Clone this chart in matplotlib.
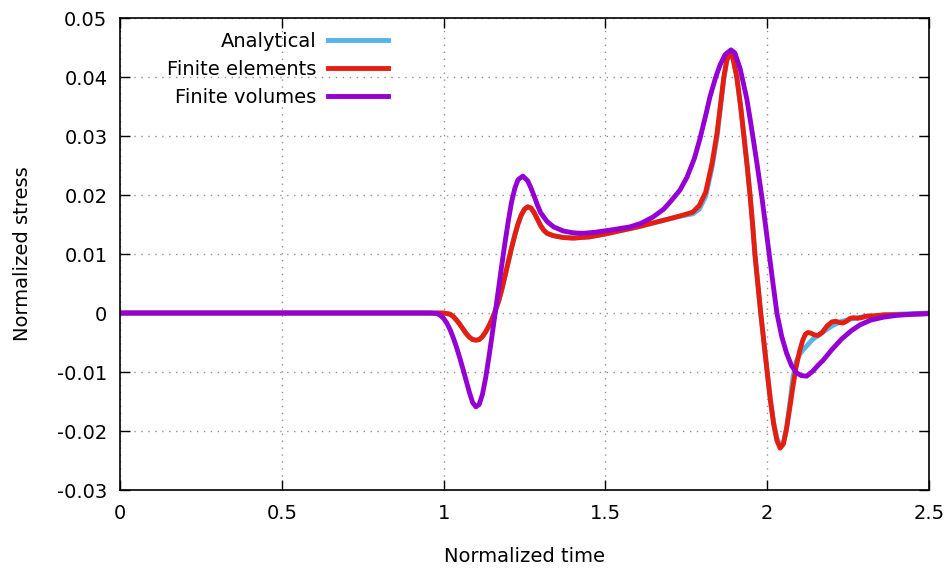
import matplotlib
matplotlib.use("Agg")
import matplotlib.pyplot as plt

# Analytical
t_an = [0, 0.5, 1.00, 1.02, 1.03, 1.04, 1.05, 1.06, 1.07, 1.08, 1.09, 1.10, 1.11,
        1.12, 1.13, 1.14, 1.15, 1.16, 1.17, 1.18, 1.19, 1.20, 1.21, 1.22, 1.23,
        1.24, 1.25, 1.26, 1.27, 1.28, 1.29, 1.30, 1.31, 1.32, 1.34, 1.37, 1.40,
        1.45, 1.50, 1.55, 1.60, 1.65, 1.70, 1.74, 1.77, 1.79, 1.81, 1.83, 1.845,
        1.855, 1.866, 1.875, 1.885, 1.895, 1.906, 1.918, 1.928, 1.938, 1.947,
        1.955, 1.962, 1.971, 1.980, 1.990, 2.000, 2.010, 2.020, 2.030, 2.040,
        2.050, 2.060, 2.070, 2.080, 2.090, 2.100, 2.110, 2.122, 2.140, 2.160,
        2.173, 2.200, 2.225, 2.260, 2.300, 2.350, 2.400, 2.450, 2.5]
s_an = [0, 0, 0, -0.0002, -0.0006, -0.0012, -0.0019, -0.0027, -0.0035, -0.0041,
        -0.0045, -0.0046, -0.0045, -0.0040, -0.0032, -0.0022, -0.0010, 0.0004,
        0.0020, 0.0040, 0.0063, 0.0087, 0.0110, 0.0132, 0.0151, 0.0166, 0.0176,
        0.0180, 0.0178, 0.0170, 0.0159, 0.0148, 0.0140, 0.0135, 0.0131, 0.0128,
        0.0127, 0.0129, 0.0134, 0.0140, 0.0146, 0.0153, 0.0160, 0.0165, 0.0168,
        0.0176, 0.0198, 0.0248, 0.0298, 0.0345, 0.0397, 0.0427, 0.0442, 0.0430,
        0.0400, 0.0350, 0.0300, 0.0250, 0.0200, 0.0150, 0.0100, 0.0050, 0.0000,
        -0.0050, -0.0100, -0.0148, -0.0186, -0.0212, -0.0225, -0.0221, -0.0196,
        -0.0152, -0.0108, -0.0082, -0.0070, -0.0063, -0.0056, -0.0045, -0.0037,
        -0.0032, -0.0022, -0.0015, -0.0010, -0.0006, -0.0004, -0.0002, -0.0001, 0]

# Finite elements
t_fe = [0, 0.5, 1.00, 1.02, 1.03, 1.04, 1.05, 1.06, 1.07, 1.08, 1.09, 1.10, 1.11,
        1.12, 1.13, 1.14, 1.15, 1.16, 1.17, 1.18, 1.19, 1.20, 1.21, 1.22, 1.23,
        1.24, 1.25, 1.26, 1.27, 1.28, 1.29, 1.30, 1.31, 1.32, 1.34, 1.37, 1.40,
        1.45, 1.50, 1.55, 1.60, 1.65, 1.70, 1.74, 1.77, 1.79, 1.81, 1.83, 1.845,
        1.855, 1.866, 1.875, 1.885, 1.895, 1.906, 1.918, 1.928, 1.938, 1.947,
        1.955, 1.962, 1.971, 1.980, 1.990, 2.000, 2.010, 2.020, 2.030, 2.040,
        2.050, 2.060, 2.070, 2.080, 2.090, 2.100, 2.110, 2.118, 2.126, 2.135,
        2.145, 2.157, 2.170, 2.185, 2.200, 2.212, 2.223, 2.234, 2.245, 2.256,
        2.266, 2.280, 2.290, 2.310, 2.330, 2.360, 2.400, 2.450, 2.5]
s_fe = [0, 0, 0, -0.0002, -0.0006, -0.0012, -0.0019, -0.0027, -0.0035, -0.0041,
        -0.0045, -0.0046, -0.0045, -0.0040, -0.0032, -0.0022, -0.0010, 0.0004,
        0.0020, 0.0040, 0.0063, 0.0087, 0.0110, 0.0132, 0.0151, 0.0166, 0.0176,
        0.0180, 0.0178, 0.0170, 0.0159, 0.0148, 0.0140, 0.0135, 0.0131, 0.0128,
        0.0127, 0.0129, 0.0134, 0.0140, 0.0146, 0.0153, 0.0160, 0.0166, 0.0171,
        0.0182, 0.0205, 0.0255, 0.0305, 0.0350, 0.0400, 0.0428, 0.0442, 0.0430,
        0.0400, 0.0350, 0.0300, 0.0250, 0.0200, 0.0150, 0.0100, 0.0050, 0.0000,
        -0.0050, -0.0100, -0.0148, -0.0188, -0.0216, -0.0229, -0.0222, -0.0195,
        -0.0160, -0.0123, -0.0090, -0.0065, -0.0046, -0.0036, -0.0033, -0.0034,
        -0.0037, -0.0038, -0.0033, -0.0022, -0.0015, -0.0014, -0.0016, -0.0017,
        -0.0014, -0.0009, -0.0008, -0.0009, -0.0008, -0.0005, -0.0005, -0.0003,
        -0.0003, -0.0002, -0.0001]

# Finite volumes
t_fv = [0, 0.5, 0.96, 0.98, 0.99, 1.00, 1.01, 1.02, 1.03, 1.04, 1.05, 1.06, 1.07,
        1.08, 1.09, 1.10, 1.11, 1.12, 1.13, 1.14, 1.15, 1.16, 1.17, 1.18, 1.19,
        1.20, 1.21, 1.22, 1.23, 1.245, 1.26, 1.27, 1.28, 1.29, 1.30, 1.32, 1.34,
        1.37, 1.40, 1.43, 1.47, 1.52, 1.576, 1.61, 1.648, 1.68, 1.70, 1.73, 1.752,
        1.775, 1.792, 1.81, 1.823, 1.84, 1.854, 1.87, 1.888, 1.90, 1.916, 1.925,
        1.937, 1.946, 1.956, 1.968, 1.984, 2.005, 2.018, 2.03, 2.045, 2.06, 2.075,
        2.09, 2.105, 2.122, 2.14, 2.16, 2.173, 2.20, 2.23, 2.26, 2.287, 2.32,
        2.36, 2.40, 2.45, 2.5]
s_fv = [0, 0, 0, -0.0001, -0.0004, -0.0009, -0.0017, -0.0028, -0.0042, -0.0058,
        -0.0076, -0.0095, -0.0115, -0.0135, -0.0152, -0.0159, -0.0155, -0.0138,
        -0.0110, -0.0075, -0.0037, 0.0002, 0.0042, 0.0082, 0.0120, 0.0156, 0.0188,
        0.0211, 0.0226, 0.0232, 0.0224, 0.0212, 0.0198, 0.0183, 0.0170, 0.0155,
        0.0146, 0.0139, 0.0136, 0.0135, 0.0137, 0.0141, 0.0146, 0.0152, 0.0163,
        0.0176, 0.0188, 0.0208, 0.0230, 0.0262, 0.0295, 0.0335, 0.0366, 0.0398,
        0.0420, 0.0438, 0.0446, 0.0441, 0.0415, 0.0393, 0.0363, 0.0333, 0.0298,
        0.0255, 0.0195, 0.0105, 0.0050, 0.0000, -0.0040, -0.0068, -0.0089,
        -0.0101, -0.0106, -0.0107, -0.0099, -0.0087, -0.0080, -0.0062, -0.0044,
        -0.0030, -0.0020, -0.0012, -0.0007, -0.0004, -0.0002, -0.0001]

x_ticks = [0, 0.5, 1, 1.5, 2, 2.5]
x_labels = ["0", "0.5", "1", "1.5", "2", "2.5"]
y_ticks = [-0.03, -0.02, -0.01, 0, 0.01, 0.02, 0.03, 0.04, 0.05]
y_labels = ["-0.03", "-0.02", "-0.01", "0", "0.01", "0.02", "0.03", "0.04", "0.05"]

plt.rcParams["font.family"] = "DejaVu Sans"
plt.rcParams["font.size"] = 14

fig = plt.figure(figsize=(9.53, 5.74), dpi=100)
ax = fig.add_axes([0.1259, 0.1463, 0.8489, 0.8223])

ax.plot(t_an, s_an, color="#56b4e9", lw=3.5, label="Analytical")
ax.plot(t_fe, s_fe, color="#e51e10", lw=3.5, label="Finite elements")
ax.plot(t_fv, s_fv, color="#9400d3", lw=3.5, label="Finite volumes")

ax.set_xlim(0, 2.5)
ax.set_ylim(-0.03, 0.05)
ax.set_xticks(x_ticks)
ax.set_xticklabels(x_labels)
ax.set_yticks(y_ticks)
ax.set_yticklabels(y_labels)
ax.tick_params(direction="in", length=7, width=1, top=True, right=True)
ax.tick_params(axis="x", pad=10)
ax.tick_params(axis="y", pad=9)
ax.grid(True, linestyle=(0, (1, 4)), color="#909090", lw=1)
for sp in ax.spines.values():
    sp.set_linewidth(1.2)

ax.set_xlabel("Normalized time", labelpad=17)
ax.set_ylabel("Normalized stress", labelpad=18)

ax.legend(loc="upper left", bbox_to_anchor=(0.041, 1.0), frameon=False,
          markerfirst=False, handlelength=3.1, handletextpad=0.6,
          labelspacing=0.48, borderaxespad=0.3)

fig.savefig("out.png", dpi=100)
